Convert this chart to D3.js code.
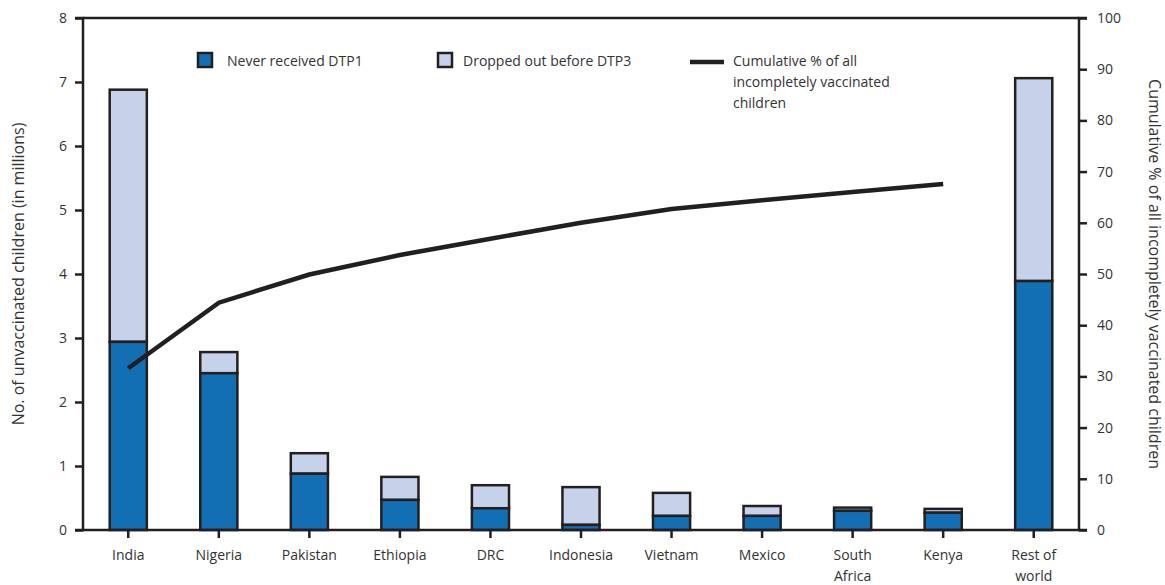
<!DOCTYPE html>
<html lang="en">
<head>
<meta charset="UTF-8">
<title>Unvaccinated children by country</title>
<script src="https://d3js.org/d3.v7.min.js"></script>
<style>
    body { margin: 0; background: #fff; }
    svg text { font-family: "Open Sans", "Noto Sans", sans-serif; fill: #333; }
</style>
</head>
<body>
<svg id="chart" width="1165" height="585"></svg>
<script>
    const countries = ["India", "Nigeria", "Pakistan", "Ethiopia", "DRC", "Indonesia", "Vietnam", "Mexico", "South Africa", "Kenya", "Rest of world"];
    const neverDTP1 = [2.94, 2.45, 0.88, 0.47, 0.34, 0.08, 0.22, 0.22, 0.30, 0.27, 3.89];
    const droppedOut = [3.94, 0.33, 0.32, 0.36, 0.36, 0.59, 0.36, 0.155, 0.05, 0.06, 3.17];
    // cumulative line stops at Kenya
    const cumulative = [31.6, 44.4, 49.9, 53.7, 56.9, 60.0, 62.7, 64.4, 66.0, 67.6];
    const leftTicks = [0, 1, 2, 3, 4, 5, 6, 7, 8];
    const rightTicks = [0, 10, 20, 30, 40, 50, 60, 70, 80, 90, 100];

    const blue = "#136fb4", light = "#c6d2e9", ink = "#231f20";
    const margin = { left: 83, right: 86, top: 18, bottom: 55 };
    const width = 1165, height = 585;

    const svg = d3.select("#chart");

    const x = d3.scaleBand().domain(countries)
        .range([margin.left, width - margin.right])
        .paddingInner(0.59).paddingOuter(0.295);
    const y = d3.scaleLinear().domain([0, 8]).range([height - margin.bottom, margin.top]);
    const y2 = d3.scaleLinear().domain([0, 100]).range([height - margin.bottom, margin.top]);

    const rows = countries.map((c, i) => ({ c, never: neverDTP1[i], drop: droppedOut[i] }));

    // bars: light on top, blue at bottom
    const g = svg.append("g");
    g.selectAll(".drop").data(rows).enter().append("rect")
        .attr("x", d => x(d.c))
        .attr("width", x.bandwidth())
        .attr("y", d => y(d.never + d.drop))
        .attr("height", d => y(d.never) - y(d.never + d.drop))
        .attr("fill", light).attr("stroke", ink).attr("stroke-width", 2.5);
    g.selectAll(".never").data(rows).enter().append("rect")
        .attr("x", d => x(d.c))
        .attr("width", x.bandwidth())
        .attr("y", d => y(d.never))
        .attr("height", d => y(0) - y(d.never))
        .attr("fill", blue).attr("stroke", ink).attr("stroke-width", 2.5);

    // cumulative line
    const line = d3.line()
        .x((d, i) => x(countries[i]) + x.bandwidth() / 2)
        .y(d => y2(d));
    svg.append("path").datum(cumulative)
        .attr("d", line)
        .attr("fill", "none").attr("stroke", ink).attr("stroke-width", 4.5);

    // axes
    const leftAxis = d3.axisLeft(y).tickValues(leftTicks).tickSize(8).tickPadding(8);
    const rightAxis = d3.axisRight(y2).tickValues(rightTicks).tickSize(8).tickPadding(10);
    const bottomAxis = d3.axisBottom(x).tickSize(8).tickSizeOuter(0).tickFormat("");

    function styleAxis(sel) {
        sel.select(".domain").attr("stroke", ink).attr("stroke-width", 2.5);
        sel.selectAll(".tick line").attr("stroke", ink).attr("stroke-width", 2.5);
        sel.selectAll(".tick text").attr("font-size", 14).style("fill", "#333");
    }

    svg.append("g").attr("transform", `translate(${margin.left},0)`).call(leftAxis).call(styleAxis)
        .select(".domain").attr("d", `M-8,${y(8)}H0V${y(0)}H-8`);
    svg.append("g").attr("transform", `translate(${width - margin.right},0)`).call(rightAxis).call(styleAxis)
        .select(".domain").attr("d", `M8,${y2(100)}H0V${y2(0)}H8`);
    svg.append("g").attr("transform", `translate(0,${y(0)})`).call(bottomAxis).call(styleAxis)
        .select(".domain").attr("d", `M${margin.left},0H${width - margin.right}`);

    // top frame line
    svg.append("line")
        .attr("x1", margin.left).attr("x2", width - margin.right)
        .attr("y1", y(8)).attr("y2", y(8))
        .attr("stroke", ink).attr("stroke-width", 2.5);

    // category labels, split two-word ones
    const labelLines = { "South Africa": ["South", "Africa"], "Rest of world": ["Rest of", "world"] };
    svg.selectAll(".xlab").data(countries).enter().append("text")
        .attr("text-anchor", "middle")
        .attr("font-size", 14)
        .attr("x", d => x(d) + x.bandwidth() / 2)
        .attr("y", y(0) + 30)
        .each(function(d) {
            const parts = labelLines[d] || [d];
            d3.select(this).selectAll("tspan").data(parts).enter().append("tspan")
                .attr("x", x(d) + x.bandwidth() / 2)
                .attr("dy", (p, i) => i === 0 ? 0 : 21)
                .text(p => p);
        });

    // axis titles
    svg.append("text")
        .attr("transform", `translate(24,${(y(0) + y(8)) / 2}) rotate(-90)`)
        .attr("text-anchor", "middle").attr("font-size", 16)
        .text("No. of unvaccinated children (in millions)");
    svg.append("text")
        .attr("transform", `translate(1149,${(y(0) + y(8)) / 2}) rotate(90)`)
        .attr("text-anchor", "middle").attr("font-size", 16)
        .text("Cumulative % of all incompletely vaccinated children");

    // legend
    const legend = svg.append("g").attr("font-size", 14);
    legend.append("rect").attr("x", 198).attr("y", 53).attr("width", 14).attr("height", 14)
        .attr("fill", blue).attr("stroke", ink).attr("stroke-width", 2.5);
    legend.append("text").attr("x", 227).attr("y", 66).text("Never received DTP1");
    legend.append("rect").attr("x", 438).attr("y", 53).attr("width", 14).attr("height", 14)
        .attr("fill", light).attr("stroke", ink).attr("stroke-width", 2.5);
    legend.append("text").attr("x", 463).attr("y", 66).text("Dropped out before DTP3");
    legend.append("line").attr("x1", 690).attr("x2", 724).attr("y1", 62).attr("y2", 62)
        .attr("stroke", ink).attr("stroke-width", 4.5);
    const cumLabel = ["Cumulative % of all", "incompletely vaccinated", "children"];
    legend.append("text").attr("x", 733).attr("y", 66)
        .selectAll("tspan").data(cumLabel).enter().append("tspan")
        .attr("x", 733).attr("dy", (d, i) => i === 0 ? 0 : 21).text(d => d);
</script>
</body>
</html>
